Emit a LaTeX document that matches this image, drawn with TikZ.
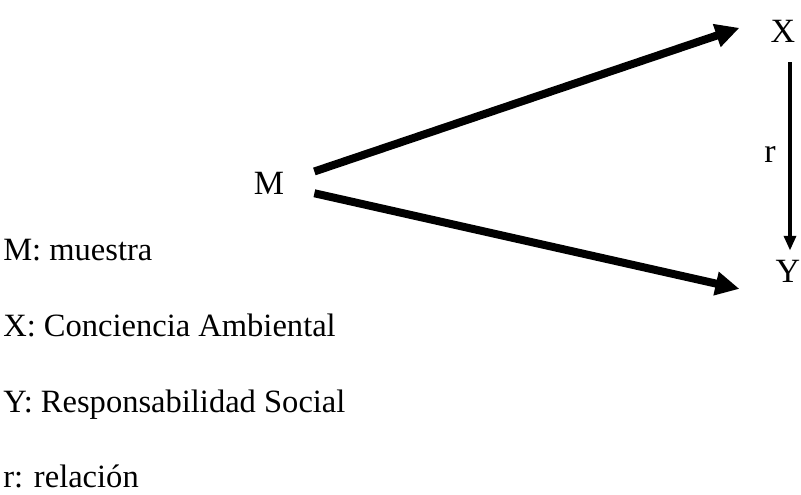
\documentclass[tikz,border=0pt]{standalone}
\usepackage{fontspec}
\setmainfont{Liberation Serif}
\usetikzlibrary{arrows.meta}

\tikzset{
  fat arrow/.style={line width=6pt,-{Triangle[length=18pt,width=17pt]}},
  thin arrow/.style={line width=2.5pt,-{Triangle[length=11pt,width=9pt]}},
  big letter/.style={font=\fontsize{25.5}{30}\selectfont,inner sep=0pt},
  legend text/.style={font=\fontsize{24.4}{29}\selectfont,inner sep=0pt,anchor=base west}
}

\begin{document}
\begin{tikzpicture}[x=0.75pt,y=0.75pt,yscale=-1,xscale=1]
\useasboundingbox (0,0) rectangle (801,495);

% Text Node
\node [big letter,anchor=base] (M) at (269,195) {M};
% Text Node
\node [big letter,anchor=base] (X) at (783,43) {X};
% Text Node
\node [big letter,anchor=base] (Y) at (788,283) {Y};
% Text Node
\node [big letter,anchor=base] (r) at (770,163) {r};

%Straight Lines
\draw [fat arrow] ([shift={(30,-1)}]M.north east) -- ([shift={(-31,-4)}]X.west) ;
%Straight Lines
\draw [fat arrow] ([shift={(30,-2)}]M.south east) -- ([shift={(-36,17)}]Y.west) ;
%Straight Lines
\draw [thin arrow] ([shift={(7,19)}]X.south) -- ([shift={(2,-10)}]Y.north) ;

% Text Node
\node [legend text] (legM) at (3,261) {M: muestra};
% Text Node
\node [legend text] (legX) at (3,337) {X: Conciencia Ambiental};
% Text Node
\node [legend text] (legY) at (3,413) {Y: Responsabilidad Social};
% Text Node
\node [legend text] (legr) at (3,488) {r: relación};

\end{tikzpicture}
\end{document}
